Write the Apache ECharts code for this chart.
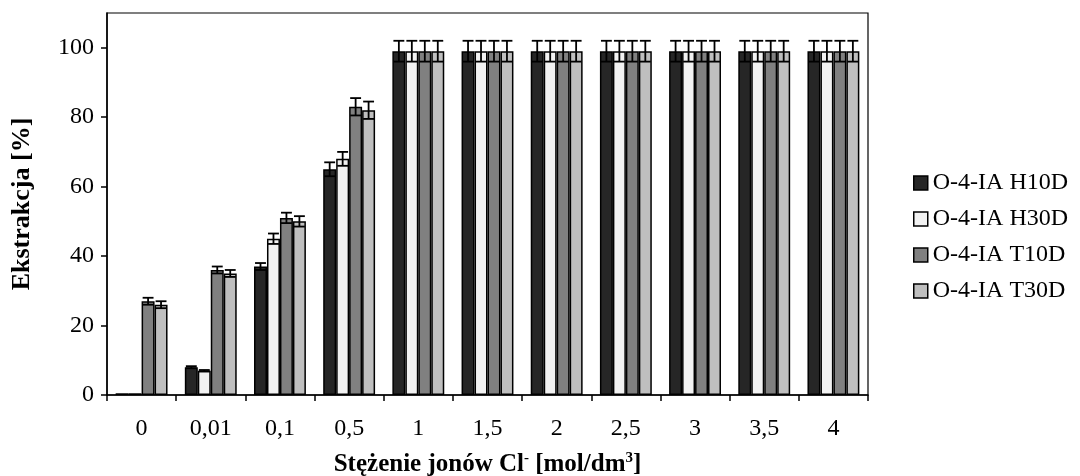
<!DOCTYPE html>
<html>
<head>
<meta charset="utf-8">
<script src="https://cdn.jsdelivr.net/npm/echarts@6/dist/echarts.min.js"></script>
<style>
  html, body { margin: 0; padding: 0; background: #fff; }
  #chart { width: 1080px; height: 476px; }
</style>
</head>
<body>
<div id="chart"></div>
<script>
// Chloride ion concentration [mol/dm3]
const categories = ['0', '0,01', '0,1', '0,5', '1', '1,5', '2', '2,5', '3', '3,5', '4'];

// Extraction [%] for each extractant
const h10d = [0.5, 8, 37, 65, 99, 99, 99, 99, 99, 99, 99];
const h30d = [0.5, 7, 45, 68, 99, 99, 99, 99, 99, 99, 99];
const t10d = [27, 36, 51, 83, 99, 99, 99, 99, 99, 99, 99];
const t30d = [26, 35, 50, 82, 99, 99, 99, 99, 99, 99, 99];

// Error (±) for each value
const h10dErr = [0, 0.3, 1, 2, 3, 3, 3, 3, 3, 3, 3];
const h30dErr = [0, 0.2, 1.5, 2, 3, 3, 3, 3, 3, 3, 3];
const t10dErr = [1, 1, 1.5, 2.5, 3, 3, 3, 3, 3, 3, 3];
const t30dErr = [1, 1, 1.5, 2.5, 3, 3, 3, 3, 3, 3, 3];

const yTicks = [0, 20, 40, 60, 80, 100];

const seriesDefs = [
  { name: 'O-4-IA H10D', values: h10d, errors: h10dErr, color: '#262626' },
  { name: 'O-4-IA H30D', values: h30d, errors: h30dErr, color: '#f2f2f2' },
  { name: 'O-4-IA T10D', values: t10d, errors: t10dErr, color: '#808080' },
  { name: 'O-4-IA T30D', values: t30d, errors: t30dErr, color: '#bfbfbf' }
];

const FONT = 'Liberation Serif';
const CAT_GAP = 0.25;
const N = seriesDefs.length;

const barSeries = seriesDefs.map(d => ({
  name: d.name,
  type: 'bar',
  data: d.values,
  barGap: '0%',
  barCategoryGap: (CAT_GAP * 100) + '%',
  itemStyle: { color: d.color, borderColor: '#000', borderWidth: 1.5 },
  emphasis: { disabled: true },
  z: 2
}));

// Error bars drawn on top of each bar, offset to that bar's slot in the group
const errorSeries = seriesDefs.map((d, i) => ({
  name: d.name + ' err',
  type: 'custom',
  data: d.values.map((v, k) => [k, v, d.errors[k]]),
  z: 3,
  silent: true,
  renderItem: function (params, api) {
    const k = api.value(0), v = api.value(1), e = api.value(2);
    if (!e) return null;
    const band = api.size([1, 0])[0];
    const groupW = band * (1 - CAT_GAP);
    const barW = groupW / N;
    const cx = api.coord([k, v])[0] - groupW / 2 + barW * (i + 0.5);
    const yTop = api.coord([k, v + e])[1];
    const yBot = api.coord([k, v - e])[1];
    const half = barW * 0.42;
    const st = { stroke: '#000', lineWidth: 1.8 };
    return {
      type: 'group',
      children: [
        { type: 'line', shape: { x1: cx, y1: yTop, x2: cx, y2: yBot }, style: st },
        { type: 'line', shape: { x1: cx - half, y1: yTop, x2: cx + half, y2: yTop }, style: st },
        { type: 'line', shape: { x1: cx - half, y1: yBot, x2: cx + half, y2: yBot }, style: st }
      ]
    };
  }
}));

const chart = echarts.init(document.getElementById('chart'), null, { renderer: 'canvas' });
chart.setOption({
  animation: false,
  backgroundColor: '#fff',
  grid: {
    left: 107, right: 212, top: 13, bottom: 81,
    outerBoundsMode: 'none',
    containLabel: false,
    show: true, borderColor: '#000', borderWidth: 1.2, backgroundColor: 'transparent'
  },
  legend: {
    data: seriesDefs.map(d => d.name),
    orient: 'vertical',
    left: 908,
    top: 166,
    itemWidth: 14,
    itemHeight: 14,
    itemGap: 12,
    icon: 'rect',
    selectedMode: false,
    itemStyle: { borderColor: '#000', borderWidth: 1.5 },
    textStyle: { fontFamily: FONT, fontSize: 24, color: '#000', lineHeight: 24 }
  },
  xAxis: {
    type: 'category',
    data: categories,
    boundaryGap: true,
    axisLine: { show: true, lineStyle: { color: '#000', width: 1.5 } },
    axisTick: { show: true, length: 6, lineStyle: { color: '#000', width: 1.5 } },
    axisLabel: { fontFamily: FONT, fontSize: 24, color: '#000', margin: 22 },
    name: '{b|Stężenie jonów Cl}{s|-}{b| [mol/dm}{s|3}{b|]}',
    nameLocation: 'middle',
    nameGap: 56,
    nameTextStyle: {
      rich: {
        b: { fontFamily: FONT, fontSize: 25, fontWeight: 'bold', color: '#000', lineHeight: 28 },
        s: { fontFamily: FONT, fontSize: 15, fontWeight: 'bold', color: '#000', verticalAlign: 'top', lineHeight: 28, padding: [0, 0, 10, 0] }
      }
    }
  },
  yAxis: {
    type: 'value',
    min: 0,
    max: 110,
    interval: 20,
    splitLine: { show: false },
    axisLine: { show: true, lineStyle: { color: '#000', width: 1.5 } },
    axisTick: { show: true, length: 6, customValues: yTicks, lineStyle: { color: '#000', width: 1.5 } },
    axisLabel: { fontFamily: FONT, fontSize: 24, color: '#000', margin: 13, customValues: yTicks },
    name: 'Ekstrakcja [%]',
    nameLocation: 'middle',
    nameGap: 72,
    nameTextStyle: { fontFamily: FONT, fontSize: 26, fontWeight: 'bold', color: '#000' }
  },
  series: barSeries.concat(errorSeries)
});
</script>
</body>
</html>
